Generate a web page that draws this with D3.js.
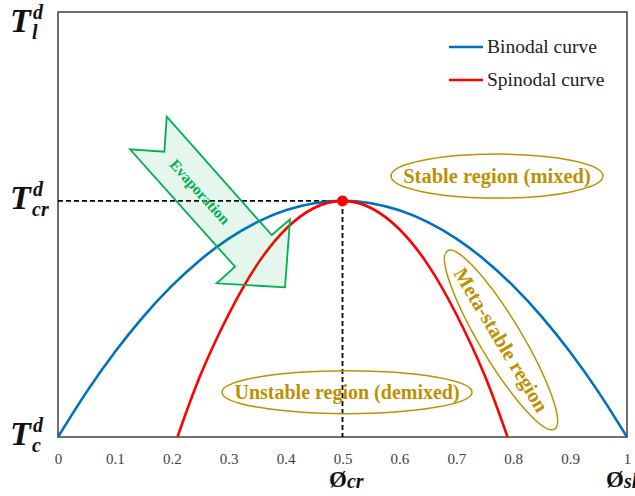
<!DOCTYPE html>
<html>
<head>
<meta charset="utf-8">
<script src="https://cdn.jsdelivr.net/npm/d3@7"></script>
<style>
  html, body { margin: 0; padding: 0; background: #fff; }
  svg { display: block; }
  text { font-family: "Liberation Serif", "Times New Roman", serif; }
</style>
</head>
<body>
<svg id="chart" width="635" height="496"></svg>
<script>
// Polymer volume fraction on the x axis, reduced temperature (T / T_cr) on the y axis
const phiBinodal = [0, 0.05, 0.1, 0.15, 0.2, 0.25, 0.3, 0.35, 0.4, 0.45, 0.5, 0.55, 0.6, 0.65, 0.7, 0.75, 0.8, 0.85, 0.9, 0.95, 1];
const tBinodal   = [0, 0.19, 0.36, 0.51, 0.64, 0.75, 0.84, 0.91, 0.96, 0.99, 1, 0.99, 0.96, 0.91, 0.84, 0.75, 0.64, 0.51, 0.36, 0.19, 0];
const phiSpinodal = [0.21, 0.25, 0.3, 0.35, 0.4, 0.45, 0.5, 0.55, 0.6, 0.65, 0.7, 0.75, 0.79];
const tSpinodal   = [0, 0.26, 0.52, 0.73, 0.88, 0.97, 1, 0.97, 0.88, 0.73, 0.52, 0.26, 0];
const criticalPoint = { phi: 0.5, t: 1 };

const xTicks = [0, 0.1, 0.2, 0.3, 0.4, 0.5, 0.6, 0.7, 0.8, 0.9, 1];
const xTickLabels = ["0", "0.1", "0.2", "0.3", "0.4", "0.5", "0.6", "0.7", "0.8", "0.9", "1"];
const yLabelValues = [0, 1, 1.75];
const yLabelSubs = ["c", "cr", "l"];
const legendNames = ["Binodal curve", "Spinodal curve"];
const legendColors = ["#0070c0", "#ff0000"];

const W = 635, H = 496;
const margin = { top: 12, right: 8, bottom: 59, left: 58 };
const svg = d3.select("#chart");

const x = d3.scaleLinear().domain([0, 1]).range([margin.left, W - margin.right]);
const y = d3.scaleLinear().domain([0, 1.8]).range([H - margin.bottom, margin.top]);

// Frame
svg.append("rect")
  .attr("x", x(0)).attr("y", y(1.8))
  .attr("width", x(1) - x(0)).attr("height", y(0) - y(1.8))
  .attr("fill", "none").attr("stroke", "#404040").attr("stroke-width", 1.5);

// X axis tick labels (no tick marks)
const xAxis = d3.axisBottom(x).tickValues(xTicks)
  .tickFormat((d, i) => xTickLabels[i]).tickSize(0).tickPadding(16);
const gx = svg.append("g").attr("transform", `translate(0,${y(0)})`).call(xAxis);
gx.select(".domain").remove();
gx.selectAll("text")
  .attr("font-family", "Liberation Serif, Times New Roman, serif")
  .attr("font-size", 15).attr("fill", "#404040");

// Critical-point guide lines
const gGuide = svg.append("g").attr("stroke", "#000").attr("stroke-width", 1.8).attr("stroke-dasharray", "5,3");
gGuide.append("line").attr("x1", x(0)).attr("x2", x(criticalPoint.phi))
  .attr("y1", y(criticalPoint.t)).attr("y2", y(criticalPoint.t));
gGuide.append("line").attr("x1", x(criticalPoint.phi)).attr("x2", x(criticalPoint.phi))
  .attr("y1", y(criticalPoint.t)).attr("y2", y(0));

// Curves
const line = d3.line().x(d => x(d[0])).y(d => y(d[1])).curve(d3.curveNatural);
svg.append("path").datum(d3.zip(phiBinodal, tBinodal))
  .attr("d", line).attr("fill", "none").attr("stroke", legendColors[0]).attr("stroke-width", 2.6);
svg.append("path").datum(d3.zip(phiSpinodal, tSpinodal))
  .attr("d", line).attr("fill", "none").attr("stroke", legendColors[1]).attr("stroke-width", 2.6);

// Critical point
svg.append("circle").attr("cx", x(criticalPoint.phi)).attr("cy", y(criticalPoint.t))
  .attr("r", 5.5).attr("fill", "#ff0000");

// Evaporation arrow (notched block arrow, offsets from its tip)
const tip = [x(0.399), y(0.634)];
const arrowShape = [[-118.3, -170.6], [-13.3, -52.3], [5, -68], [0, 0], [-68.3, -4],
                    [-50, -20.6], [-155, -138], [-120.7, -135.6]];
svg.append("polygon")
  .attr("points", arrowShape.map(p => [tip[0] + p[0], tip[1] + p[1]].join(",")).join(" "))
  .attr("fill", "#00b050").attr("fill-opacity", 0.1)
  .attr("stroke", "#00b050").attr("stroke-width", 1.8).attr("stroke-linejoin", "miter");
svg.append("text")
  .attr("transform", `translate(${tip[0] - 85},${tip[1] - 95.6}) rotate(48)`)
  .attr("text-anchor", "middle").attr("dy", "0.35em")
  .attr("font-size", 15.3).attr("font-weight", "bold").attr("fill", "#00b050")
  .text("Evaporation");

// Region annotations
const gold = "#bf9000";
const regions = [
  { label: "Stable region (mixed)", phi: 0.7715, t: 1.105, rx: 106, ry: 22, angle: 0, size: 20.5 },
  { label: "Unstable region (demixed)", phi: 0.508, t: 0.19, rx: 125, ry: 21.5, angle: 0, size: 20 },
  { label: "Meta-stable region", phi: 0.7786, t: 0.411, rx: 104, ry: 21, angle: 59, size: 20.5 }
];
regions.forEach(r => {
  const g = svg.append("g").attr("transform", `translate(${x(r.phi)},${y(r.t)}) rotate(${r.angle})`);
  g.append("ellipse").attr("rx", r.rx).attr("ry", r.ry)
    .attr("fill", "none").attr("stroke", gold).attr("stroke-width", 1.5);
  g.append("text").attr("text-anchor", "middle").attr("dy", "0.33em")
    .attr("font-size", r.size).attr("font-weight", "bold").attr("fill", gold)
    .text(r.label);
});

// Legend
legendNames.forEach((name, i) => {
  const ly = 47 + i * 33;
  svg.append("line").attr("x1", 449).attr("x2", 483).attr("y1", ly).attr("y2", ly)
    .attr("stroke", legendColors[i]).attr("stroke-width", 2.6);
  svg.append("text").attr("x", 487).attr("y", ly + 6)
    .attr("font-size", 19.5).attr("fill", "#222").text(name);
});

// Y axis labels: T with superscript d and a subscript
yLabelValues.forEach((v, i) => {
  const base = y(v) + 8;
  const g = svg.append("g").attr("fill", "#111").attr("font-weight", "bold").attr("font-style", "italic");
  g.append("text").attr("x", 10).attr("y", base).attr("font-size", 34).text("T");
  g.append("text").attr("x", 33).attr("y", base - 13).attr("font-size", 20).text("d");
  g.append("text").attr("x", 32).attr("y", base + 7).attr("font-size", 20).text(yLabelSubs[i]);
});

// X axis titles
const gT = svg.append("g").attr("fill", "#111").attr("font-weight", "bold");
const t1 = gT.append("text").attr("x", 329).attr("y", 487);
t1.append("tspan").attr("font-size", 23).text("Ø");
t1.append("tspan").attr("font-size", 20).attr("font-style", "italic").attr("dy", 1).text("cr");
const t2 = gT.append("text").attr("x", 606).attr("y", 487);
t2.append("tspan").attr("font-size", 23).text("Ø");
t2.append("tspan").attr("font-size", 20).attr("font-style", "italic").attr("dy", 1).text("sl");
</script>
</body>
</html>
